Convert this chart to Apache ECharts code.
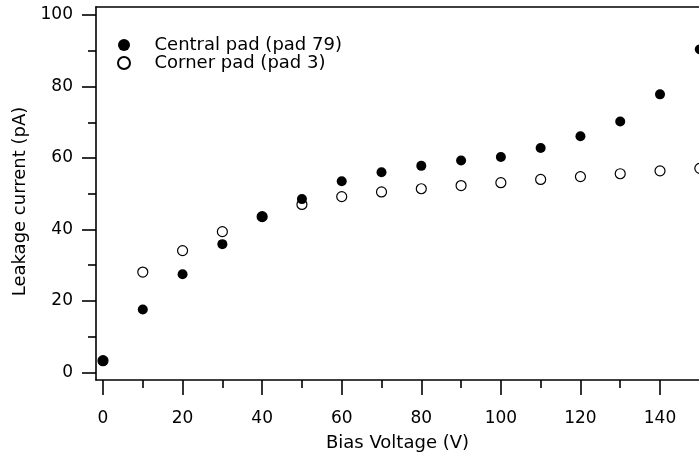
<!DOCTYPE html>
<html>
<head>
<meta charset="utf-8">
<script src="https://cdn.jsdelivr.net/npm/echarts@6/dist/echarts.min.js"></script>
<style>
  html, body { margin: 0; padding: 0; background: #fff; }
  #chart { width: 699px; height: 459px; }
</style>
</head>
<body>
<div id="chart"></div>
<script>
// Leakage current vs bias voltage for two pads
const biasVoltage = [0, 10, 20, 30, 40, 50, 60, 70, 80, 90, 100, 110, 120, 130, 140, 150];
const centralPad = [3.3, 17.6, 27.5, 35.9, 43.6, 48.5, 53.5, 56.0, 57.8, 59.3, 60.3, 62.8, 66.1, 70.2, 77.8, 90.4];
const cornerPad = [3.3, 28.1, 34.1, 39.4, 43.6, 47.0, 49.2, 50.5, 51.4, 52.3, 53.1, 54.0, 54.8, 55.6, 56.4, 57.1];

const seriesNames = ['Central pad (pad 79)', 'Corner pad (pad 3)'];

const xMajorTicks = [0, 20, 40, 60, 80, 100, 120, 140];
const xMinorTicks = [10, 30, 50, 70, 90, 110, 130];
const yMajorTicks = [0, 20, 40, 60, 80, 100];
const yMinorTicks = [10, 30, 50, 70, 90];

const xName = 'Bias Voltage (V)';
const yName = 'Leakage current (pA)';

const FONT = 'DejaVu Sans';
const INK = '#000';
const xRange = { min: -1.76, max: 149.8 };
const yRange = { min: -2.1, max: 102.24 };

const pairs = (xs, ys) => xs.map((x, i) => [x, ys[i]]);

const chart = echarts.init(document.getElementById('chart'), null, { renderer: 'canvas' });

chart.setOption({
  animation: false,
  backgroundColor: '#fff',
  grid: { left: 96, top: 7, right: 0, bottom: 79, containLabel: false },
  legend: {
    orient: 'vertical',
    left: 112,
    top: 31,
    padding: 5,
    itemWidth: 13,
    itemHeight: 12,
    itemGap: 0,
    data: [
      { name: seriesNames[0], icon: 'circle' },
      { name: seriesNames[1], icon: 'circle' }
    ],
    textStyle: { fontFamily: FONT, fontSize: 18, color: INK, lineHeight: 18, padding: [0, 0, 0, 19] }
  },
  xAxis: [
    {
      type: 'value', position: 'bottom', min: xRange.min, max: xRange.max,
      splitLine: { show: false },
      axisLine: { show: true, onZero: false, lineStyle: { color: INK, width: 1.6 } },
      axisTick: { show: true, inside: false, length: 15, customValues: xMajorTicks, lineStyle: { color: INK, width: 1.6 } },
      axisLabel: { show: true, margin: 30, customValues: xMajorTicks, fontFamily: FONT, fontSize: 17, color: INK },
      name: xName, nameLocation: 'middle', nameGap: 54,
      nameTextStyle: { fontFamily: FONT, fontSize: 18, color: INK }
    },
    {
      type: 'value', position: 'bottom', min: xRange.min, max: xRange.max,
      splitLine: { show: false },
      axisLine: { show: false, onZero: false },
      axisTick: { show: true, inside: false, length: 8, customValues: xMinorTicks, lineStyle: { color: INK, width: 1.6 } },
      axisLabel: { show: false }
    },
    {
      type: 'value', position: 'top', min: xRange.min, max: xRange.max,
      splitLine: { show: false },
      axisLine: { show: true, onZero: false, lineStyle: { color: INK, width: 1.6 } },
      axisTick: { show: false },
      axisLabel: { show: false }
    }
  ],
  yAxis: [
    {
      type: 'value', position: 'left', min: yRange.min, max: yRange.max,
      splitLine: { show: false },
      axisLine: { show: true, onZero: false, lineStyle: { color: INK, width: 1.6 } },
      axisTick: { show: true, inside: false, length: 14, customValues: yMajorTicks, lineStyle: { color: INK, width: 1.6 } },
      axisLabel: { show: true, margin: 23, customValues: yMajorTicks, fontFamily: FONT, fontSize: 17, color: INK },
      name: yName, nameLocation: 'middle', nameGap: 67, nameRotate: 90,
      nameTextStyle: { fontFamily: FONT, fontSize: 18, color: INK, padding: [0, 16, 0, 0] }
    },
    {
      type: 'value', position: 'left', offset: 0, min: yRange.min, max: yRange.max,
      splitLine: { show: false },
      axisLine: { show: false, onZero: false },
      axisTick: { show: true, inside: false, length: 8, customValues: yMinorTicks, lineStyle: { color: INK, width: 1.6 } },
      axisLabel: { show: false }
    }
  ],
  series: [
    {
      name: seriesNames[1], type: 'scatter', xAxisIndex: 0, yAxisIndex: 0,
      data: pairs(biasVoltage, cornerPad), clip: false,
      symbol: 'circle', symbolSize: 10,
      itemStyle: { color: '#fff', borderColor: INK, borderWidth: 1.2, opacity: 1 },
      z: 2
    },
    {
      name: seriesNames[0], type: 'scatter', xAxisIndex: 0, yAxisIndex: 0,
      data: pairs(biasVoltage, centralPad), clip: false,
      symbol: 'circle', symbolSize: 10,
      itemStyle: { color: INK, borderWidth: 0, opacity: 1 },
      z: 3
    }
  ]
});
</script>
</body>
</html>
